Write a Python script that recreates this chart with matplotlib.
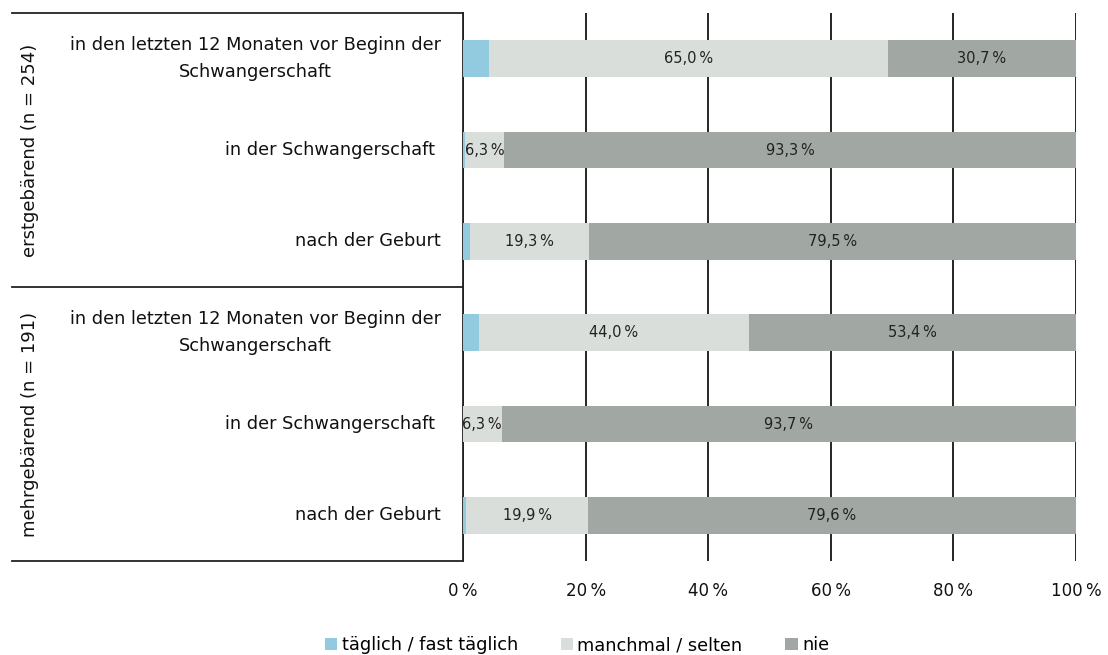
import matplotlib
matplotlib.use("Agg")
import matplotlib.pyplot as plt
import matplotlib.transforms as mtransforms
import numpy as np

categories = ["in den letzten 12 Monaten vor Beginn der\nSchwangerschaft",
              "in der Schwangerschaft",
              "nach der Geburt",
              "in den letzten 12 Monaten vor Beginn der\nSchwangerschaft",
              "in der Schwangerschaft",
              "nach der Geburt"]
groups = ["erstgebärend (n = 254)", "mehrgebärend (n = 191)"]
taeglich = [4.3, 0.4, 1.2, 2.6, 0.0, 0.5]
manchmal = [65.0, 6.3, 19.3, 44.0, 6.3, 19.9]
nie = [30.7, 93.3, 79.5, 53.4, 93.7, 79.6]
series_names = ["täglich / fast täglich", "manchmal / selten", "nie"]
colors = ["#92CAE0", "#D9DEDB", "#A1A8A3"]
xticks = [0, 20, 40, 60, 80, 100]
xticklabels = ["0\u2009%", "20\u2009%", "40\u2009%", "60\u2009%", "80\u2009%", "100\u2009%"]

plt.rcParams['font.family'] = ['DejaVu Sans']

fig = plt.figure(figsize=(11.08, 6.55), dpi=100)
ax = fig.add_axes([463/1108, 1-561/655, 613/1108, 548/655])

y = np.arange(len(categories))
bar_h = 0.40
left = np.zeros(len(categories))
for vals, name, col in zip([taeglich, manchmal, nie], series_names, colors):
    vals = np.array(vals)
    ax.barh(y, vals, left=left, height=bar_h, color=col, label=name, zorder=3)
    if name != series_names[0]:
        for yi, l, v in zip(y, left, vals):
            ax.text(l + v/2, yi, f"{v:.1f}".replace(".", ",") + "\u2009%",
                    ha='center', va='center', fontsize=10.5, color='#222222', zorder=4)
    left = left + vals

ax.set_xlim(0, 100)
ax.set_ylim(len(categories)-0.5, -0.5)
ax.set_xticks(xticks)
ax.set_xticklabels(xticklabels, fontsize=12, color='#111111')
ax.tick_params(axis='x', length=0, pad=15)
ax.set_yticks([])
ax.xaxis.grid(True, color='black', linewidth=1.2)
ax.set_axisbelow(True)
for s in ['top', 'right', 'bottom']:
    ax.spines[s].set_visible(False)
ax.spines['left'].set_color('#222222')
ax.spines['left'].set_linewidth(1.3)

trans = mtransforms.blended_transform_factory(ax.transAxes, ax.transData)
lab_x = (441-463)/613
for yi, cat in zip(y, categories):
    xo = lab_x if cat != "in der Schwangerschaft" else (435-463)/613
    ax.text(xo, yi, cat, transform=trans, ha='right', va='center',
            multialignment='center', fontsize=12.8, color='#111111', linespacing=1.6)

x_line0 = (12-463)/613
for yb in [-0.5, 2.5, 5.5]:
    ax.plot([x_line0, 0], [yb, yb], transform=trans, color='#222222', lw=1.3, clip_on=False)

grp_x = (30-463)/613
for gi, g in enumerate(groups):
    ax.text(grp_x, 1 + 3*gi, g, transform=trans, rotation=90, ha='center', va='center',
            fontsize=13, color='#111111')

fig.legend(loc='center', bbox_to_anchor=(577/1108, 1-645/655), ncol=3, frameon=False,
           fontsize=12.8, handlelength=0.7, handleheight=0.7, handletextpad=0.25,
           columnspacing=2.4)

fig.savefig("out.png", dpi=100)
